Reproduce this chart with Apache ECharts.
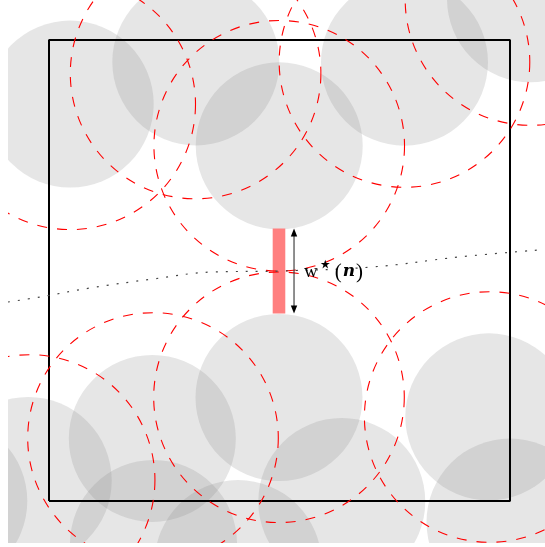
<!DOCTYPE html>
<html>
<head>
<meta charset="utf-8">
<script src="https://cdn.jsdelivr.net/npm/echarts@6/dist/echarts.min.js"></script>
<style>
html,body{margin:0;padding:0;background:#fff;}
#chart{width:545px;height:547px;}
</style>
</head>
<body>
<div id="chart"></div>
<script>
// ---------------- data (unit square = the black box) ----------------
// grey hard disks: centres
const diskX = [0.0460, 0.3185, 0.4994, 0.7711, 1.0445, 0.4989, 0.2241, -0.0451, -0.2282, 0.9540, 1.0000, 0.6351, 0.4100, 0.2267];
const diskY = [0.8610, 0.9525, 0.7705, 0.9518, 1.0894, 0.2245, 0.1356, 0.0445, 0.0000, 0.1826, -0.0456, -0.0011, -0.1356, -0.0922];
const diskRadius = 0.1811;

// red dashed circles (exclusion radius): centres
const ringX = [0.0460, 0.3180, 0.4994, 0.7711, 1.0445, 0.4989, 0.2256, -0.0420, 0.9560];
const ringY = [0.8605, 0.9273, 0.7705, 0.9523, 1.0868, 0.2250, 0.1367, 0.0456, 0.1822];
const ringRadius = 0.2718;

// black box
const boxX = [0, 1, 1, 0, 0];
const boxY = [0, 0, 1, 1, 0];

// gap between the two central disks (red bar + double arrow)
const gapX = [0.4989];
const gapLow = [0.4066];
const gapHigh = [0.5912];
const arrowX = [0.5315];

// dotted curve
const curveX = [-0.0889, -0.0195, 0.0889, 0.2256, 0.3536, 0.4989, 0.7007, 0.8894, 1.0629];
const curveY = [0.4317, 0.4425, 0.4620, 0.4816, 0.4967, 0.4989, 0.5076, 0.5293, 0.5445];

// label pieces
const labelMain = 'w';
const labelStar = '\u22C6';
const labelArg = 'n';

// ---------------- layout (pixels) ----------------
const BOX_LEFT_PX = 49, BOX_BOTTOM_PX = 501, BOX_SIDE_PX = 461;
const VIEW = {left: 8, top: 0, right: 545, bottom: 543};

const chart = echarts.init(document.getElementById('chart'), null, {renderer: 'canvas'});

const pts = (xs, ys) => xs.map((x, i) => [x, ys[i]]);

const option = {
  animation: false,
  backgroundColor: '#ffffff',
  grid: {left: VIEW.left, top: VIEW.top, width: VIEW.right - VIEW.left, height: VIEW.bottom - VIEW.top, containLabel: false},
  xAxis: {
    type: 'value',
    min: (VIEW.left - BOX_LEFT_PX) / BOX_SIDE_PX,
    max: (VIEW.right - BOX_LEFT_PX) / BOX_SIDE_PX,
    show: false
  },
  yAxis: {
    type: 'value',
    min: (BOX_BOTTOM_PX - VIEW.bottom) / BOX_SIDE_PX,
    max: (BOX_BOTTOM_PX - VIEW.top) / BOX_SIDE_PX,
    show: false
  },
  series: [
    {
      type: 'custom',
      name: 'disks',
      clip: true,
      data: pts(diskX, diskY),
      encode: {x: 0, y: 1},
      renderItem: function (params, api) {
        const c = api.coord([api.value(0), api.value(1)]);
        const r = api.size([diskRadius, 0])[0];
        return {type: 'circle', shape: {cx: c[0], cy: c[1], r: r},
          style: {fill: 'rgba(128,128,128,0.2)'}};
      },
      z: 1
    },
    {
      type: 'line',
      name: 'box',
      data: pts(boxX, boxY),
      showSymbol: false,
      lineStyle: {color: '#000', width: 2},
      z: 2,
      silent: true
    },
    {
      type: 'custom',
      name: 'gap',
      clip: true,
      data: gapX.map((x, i) => [x, gapLow[i], gapHigh[i]]),
      encode: {x: 0, y: [1, 2]},
      renderItem: function (params, api) {
        const lo = api.coord([api.value(0), api.value(1)]);
        const hi = api.coord([api.value(0), api.value(2)]);
        const w = 12.6;
        return {type: 'rect', shape: {x: lo[0] - w / 2, y: hi[1], width: w, height: lo[1] - hi[1]},
          style: {fill: '#ff7f7f'}};
      },
      z: 3
    },
    {
      type: 'custom',
      name: 'rings',
      clip: true,
      data: pts(ringX, ringY),
      encode: {x: 0, y: 1},
      renderItem: function (params, api) {
        const c = api.coord([api.value(0), api.value(1)]);
        const r = api.size([ringRadius, 0])[0];
        return {type: 'circle', shape: {cx: c[0], cy: c[1], r: r},
          style: {fill: null, stroke: '#ff0000', lineWidth: 1.1, lineDash: [10, 10]}};
      },
      z: 4
    },
    {
      type: 'line',
      name: 'curve',
      data: pts(curveX, curveY),
      smooth: 0.4,
      showSymbol: false,
      lineStyle: {color: '#444', width: 1.2, type: [2, 8]},
      z: 5,
      silent: true
    },
    {
      type: 'custom',
      name: 'arrow',
      clip: false,
      data: arrowX.map((x, i) => [x, gapLow[i], gapHigh[i]]),
      encode: {x: 0, y: [1, 2]},
      renderItem: function (params, api) {
        const lo = api.coord([api.value(0), api.value(1)]);
        const hi = api.coord([api.value(0), api.value(2)]);
        const x = lo[0];
        const hl = 8, hw = 3.2;
        const midY = (lo[1] + hi[1]) / 2;
        return {
          type: 'group',
          children: [
            {type: 'line', shape: {x1: x, y1: hi[1] + hl - 1, x2: x, y2: lo[1] - hl + 1},
              style: {stroke: '#333', lineWidth: 1.1}},
            {type: 'polygon', shape: {points: [[x, hi[1]], [x - hw, hi[1] + hl], [x + hw, hi[1] + hl]]},
              style: {fill: '#000'}},
            {type: 'polygon', shape: {points: [[x, lo[1]], [x - hw, lo[1] - hl], [x + hw, lo[1] - hl]]},
              style: {fill: '#000'}},
            {type: 'text', x: x + 10, y: midY + 1,
              style: {
                text: '{w|' + labelMain + '}{s|' + labelStar + '}{p|(}{n|' + labelArg + '}{p|)}',
                align: 'left', verticalAlign: 'middle',
                rich: {
                  w: {fontFamily: 'Liberation Serif', fontSize: 19, fill: '#000', color: '#000', lineHeight: 22},
                  s: {fontFamily: 'DejaVu Sans', fontSize: 24, fill: '#000', color: '#000', lineHeight: 22, padding: [0, 2, 12, 0]},
                  p: {fontFamily: 'Liberation Serif', fontSize: 21, fill: '#000', color: '#000', lineHeight: 22},
                  n: {fontFamily: 'DejaVu Serif', fontStyle: 'italic', fontWeight: 'bold', fontSize: 17, fill: '#000', color: '#000', lineHeight: 22, padding: [0, 1, 0, 1]}
                }
              }}
          ]
        };
      },
      z: 6
    }
  ]
};
chart.setOption(option);
</script>
</body>
</html>
